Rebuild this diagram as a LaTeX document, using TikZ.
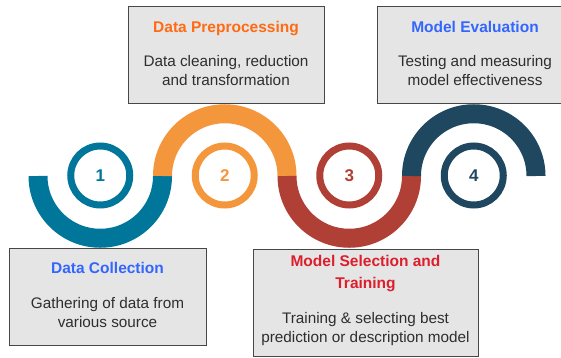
\documentclass[tikz,border=0pt]{standalone}
\usepackage{fontspec}
\setmainfont{Liberation Sans}
\usepackage{tikz}

% ring colours and heading colours
\definecolor{ringone}{HTML}{00769B}
\definecolor{ringtwo}{HTML}{F4963C}
\definecolor{ringthree}{HTML}{B03F35}
\definecolor{ringfour}{HTML}{1F4760}
\definecolor{headblue}{HTML}{3366FF}
\definecolor{headorange}{HTML}{FF6A13}
\definecolor{headred}{HTML}{DC1E2D}
\definecolor{bodygrey}{HTML}{2E2E2E}

\tikzset{
	card/.style={draw=black!72, fill=black!10, line width=1pt, minimum width=196pt, minimum height=96pt, inner sep=0pt},
	ttl/.style={font=\bfseries\fontsize{15.5}{22}\selectfont, anchor=base, align=center, inner sep=0pt},
	txt/.style={font=\fontsize{15.3}{19.5}\selectfont, text=bodygrey, anchor=base, align=center, inner sep=0pt},
	ring/.style={circle, draw=#1, text=#1, line width=7pt, minimum size=59pt, inner sep=0pt, font=\bfseries\fontsize{17}{17}\selectfont},
	band/.style={line width=19pt, draw=#1}
}

\begin{document}
\begin{tikzpicture}[x=1pt, y=1pt]
	\useasboundingbox (0,0) rectangle (561,357);

	% text cards
	\path (226,302) node[card] (pre){}
	(475,302) node[card] (eval){}
	(107.5,60.5) node[card, minimum width=197pt, minimum height=97pt] (coll){}
	(365.5,54.5) node[card, minimum width=225pt, minimum height=107pt] (sel){};

	% the wave, one half turn per step
	\draw[band=ringone] (38,181) arc[start angle=180, end angle=360, radius=62.25];
	\draw[band=ringtwo] (162.5,181) arc[start angle=180, end angle=0, radius=62.25];
	\draw[band=ringthree] (287,181) arc[start angle=180, end angle=360, radius=62.25];
	\draw[band=ringfour] (411.5,181) arc[start angle=180, end angle=0, radius=62.25];

	% numbered rings
	\path (100.25,181.5) node[ring=ringone] (c1){1}
	(224.75,181.5) node[ring=ringtwo] (c2){2}
	(349.25,181.5) node[ring=ringthree] (c3){3}
	(473.75,181.5) node[ring=ringfour] (c4){4};

	% card texts (base of a two-line node sits on its last line)
	\node[ttl, text=headorange] (preT) at ([yshift=-26pt]pre.north) {Data Preprocessing};
	\node[txt] (preB) at ([yshift=-79pt]pre.north) {Data cleaning, reduction\\and transformation};

	\node[ttl, text=headblue] (evalT) at ([yshift=-26pt]eval.north) {Model Evaluation};
	\node[txt] (evalB) at ([yshift=-79pt]eval.north) {Testing and measuring\\model effectiveness};

	\node[ttl, text=headblue] (collT) at ([yshift=-26pt]coll.north) {Data Collection};
	\node[txt] (collB) at ([yshift=-80pt]coll.north) {Gathering of data from\\various source};

	\node[ttl, text=headred] (selT) at ([yshift=-40pt]sel.north) {Model Selection and\\Training};
	\node[txt] (selB) at ([yshift=-94pt]sel.north) {Training \& selecting best\\prediction or description model};
\end{tikzpicture}
\end{document}
